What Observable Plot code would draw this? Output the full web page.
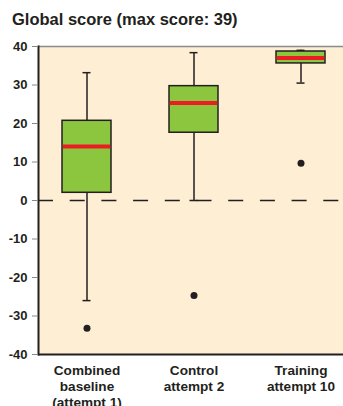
<!DOCTYPE html>
<html>
<head>
<meta charset="utf-8">
<script src="https://cdn.jsdelivr.net/npm/d3@7"></script>
<script src="https://cdn.jsdelivr.net/npm/@observablehq/plot@0.6"></script>
<style>
  html, body { margin: 0; padding: 0; background: #fff; }
  .title { height: 36px; box-sizing: border-box; padding: 11px 0 0 12px; font: bold 16.5px "Liberation Sans", Arial, sans-serif; line-height: 17px; color: #231f20; white-space: nowrap; }
  #chart { width: 343px; height: 370px; overflow: hidden; }
</style>
</head>
<body>
<div class="title">Global score (max score: 39)</div>
<div id="chart"></div>
<script>
const categories = ["Combined baseline (attempt 1)", "Control attempt 2", "Training attempt 10"];
const tickLabels = ["Combined\nbaseline\n(attempt 1)", "Control\nattempt 2", "Training\nattempt 10"];
const whiskerLow = [-26, 0, 30.5];
const q1 = [2, 17.6, 35.6];
const median = [14, 25.3, 37];
const q3 = [20.7, 29.7, 38.7];
const whiskerHigh = [33.2, 38.4, 39];
const outliers = [-33.2, -24.7, 9.7];
const yTicks = [-40, -30, -20, -10, 0, 10, 20, 30, 40];

const rows = categories.map((c, i) => ({
  cat: c, lo: whiskerLow[i], q1: q1[i], med: median[i], q3: q3[i], hi: whiskerHigh[i], out: outliers[i]
}));

const ink = "#231f20";
const chart = Plot.plot({
  width: 343,
  height: 370,
  marginTop: 10,
  marginBottom: 52,
  marginLeft: 38,
  marginRight: 0,
  style: { background: "transparent", fontFamily: "'Liberation Sans', Arial, sans-serif", color: ink, overflow: "visible" },
  x: { type: "band", domain: categories, range: [38, 348.9], paddingInner: 0.539, paddingOuter: 0.217, align: 0.5 },
  y: { domain: [-40, 40] },
  marks: [
    Plot.frame({ fill: "#fdeed4", stroke: null }),
    Plot.ruleY([40], { stroke: "#8a8a8a", strokeWidth: 1.5 }),
    Plot.ruleY([0], { stroke: ink, strokeWidth: 1.5, strokeDasharray: "15,16.7" }),
    Plot.ruleX(rows, { x: "cat", y1: "lo", y2: "hi", stroke: ink, strokeWidth: 1.5 }),
    Plot.tickY(rows, { x: "cat", y: "hi", stroke: ink, strokeWidth: 1.5, inset: 20.5 }),
    Plot.tickY(rows, { x: "cat", y: "lo", stroke: ink, strokeWidth: 1.5, inset: 20.5 }),
    Plot.barY(rows, { x: "cat", y1: "q1", y2: "q3", fill: "#8cc63f", stroke: ink, strokeWidth: 1.5 }),
    Plot.tickY(rows, { x: "cat", y: "med", stroke: "#ed1c24", strokeWidth: 4, inset: 0.75 }),
    Plot.dot(rows, { x: "cat", y: "out", r: 3.5, fill: ink, stroke: null }),
    Plot.ruleY([-40], { stroke: ink, strokeWidth: 2 }),
    Plot.frame({ anchor: "left", stroke: ink, strokeWidth: 2 }),
    Plot.axisY({ ticks: yTicks, tickFormat: d => String(d), tickSize: 6, tickPadding: 5, stroke: "#888", fill: ink, fontSize: 13, fontWeight: "bold", label: null }),
    Plot.axisX({ tickSize: 0, tickPadding: 9, tickFormat: (d, i) => tickLabels[categories.indexOf(d)], fontSize: 13.6, fontWeight: "bold", lineHeight: 1.17, fill: ink, label: null })
  ]
});
document.getElementById("chart").appendChild(chart);
</script>
</body>
</html>
